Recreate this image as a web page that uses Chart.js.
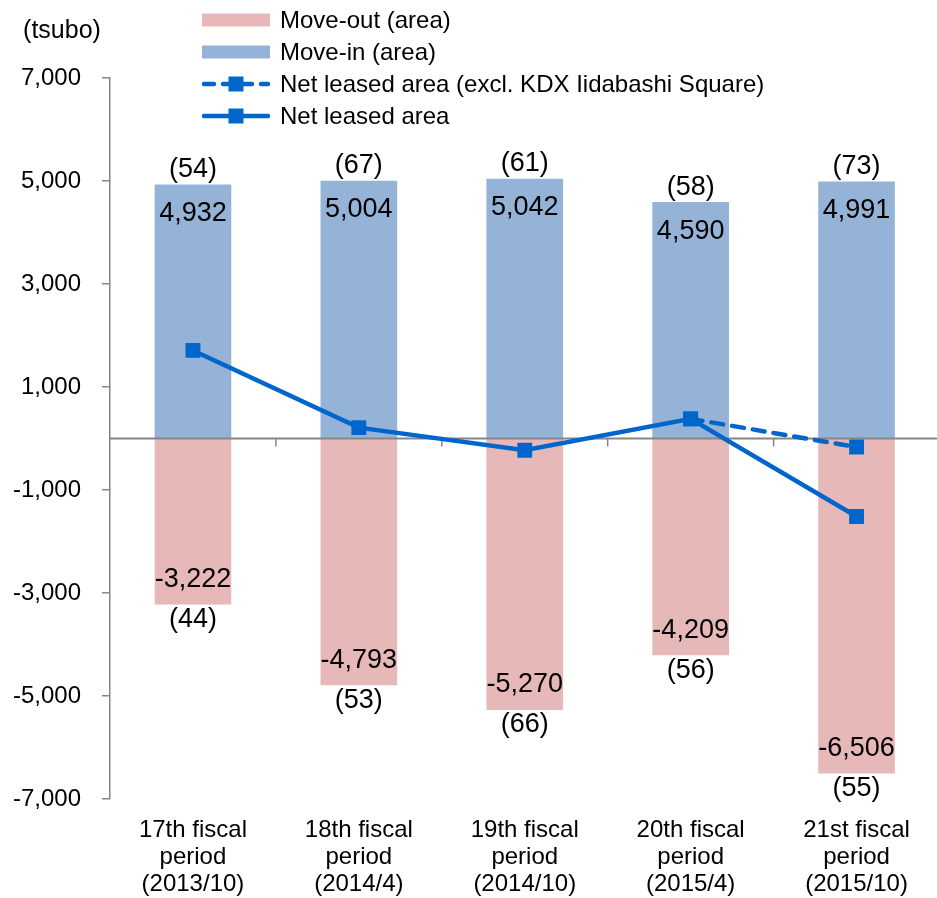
<!DOCTYPE html>
<html>
<head>
<meta charset="utf-8">
<script src="https://cdn.jsdelivr.net/npm/chart.js@4/dist/chart.umd.min.js"></script>
<style>
  html, body { margin: 0; padding: 0; background: #ffffff; overflow: hidden; }
  #wrap { position: relative; width: 950px; height: 898px; }
</style>
</head>
<body>
<div id="wrap"><canvas id="c" width="950" height="898"></canvas></div>
<script>
// ---- Data ----
const periodNames = ['17th fiscal', '18th fiscal', '19th fiscal', '20th fiscal', '21st fiscal'];
const periodWord = 'period';
const periodDates = ['(2013/10)', '(2014/4)', '(2014/10)', '(2015/4)', '(2015/10)'];
const moveIn = [4932, 5004, 5042, 4590, 4991];
const moveOut = [-3222, -4793, -5270, -4209, -6506];
const moveInCount = [54, 67, 61, 58, 73];
const moveOutCount = [44, 53, 66, 56, 55];
const netLeased = [1710, 211, -228, 381, -1515];
const netExclKDX = [null, null, null, 381, -165];
const yTicks = [-7000, -5000, -3000, -1000, 1000, 3000, 5000, 7000];
const unitLabel = '(tsubo)';

const FONT = '"Liberation Sans", Arial, sans-serif';
const BLUE = '#0066CC';
const AXIS = '#868686';
const categories = periodNames.map((n, i) => [n, periodWord, periodDates[i]]);
const fmt = v => v.toLocaleString('en-US');

const datasets = [
  { type: 'bar', label: 'Move-out (area)', data: moveOut, backgroundColor: '#E6B9B8',
    grouped: false, categoryPercentage: 1, barPercentage: 0.462, order: 2, counts: moveOutCount },
  { type: 'bar', label: 'Move-in (area)', data: moveIn, backgroundColor: '#95B3D7',
    grouped: false, categoryPercentage: 1, barPercentage: 0.462, order: 2, counts: moveInCount },
  { type: 'line', label: 'Net leased area (excl. KDX Iidabashi Square)', data: netExclKDX,
    borderColor: BLUE, backgroundColor: BLUE, borderWidth: 4.5, borderDash: [12, 9], borderCapStyle: 'round',
    pointStyle: 'rect', pointRadius: 10.5, pointBorderWidth: 0, spanGaps: false, order: 1, legendDash: true },
  { type: 'line', label: 'Net leased area', data: netLeased,
    borderColor: BLUE, backgroundColor: BLUE, borderWidth: 4.5,
    pointStyle: 'rect', pointRadius: 10.5, pointBorderWidth: 0, order: 0 }
];

const decor = {
  id: 'decor',
  afterDatasetDraw(chart, args) {
    if (args.index !== 0) return;
    // zero line and category boundary ticks
    const ctx = chart.ctx, y = chart.scales.y, x = chart.scales.x, ca = chart.chartArea;
    const y0 = y.getPixelForValue(0);
    ctx.save();
    ctx.strokeStyle = AXIS; ctx.lineWidth = 2;
    ctx.beginPath(); ctx.moveTo(ca.left, y0); ctx.lineTo(ca.right, y0); ctx.stroke();
    ctx.lineWidth = 1.5;
    for (let i = 0; i < categories.length; i++) {
      const bx = (x.getPixelForValue(i) + (i + 1 < categories.length ? x.getPixelForValue(i + 1) : x.getPixelForValue(i) * 2 - x.getPixelForValue(i - 1))) / 2;
      ctx.beginPath(); ctx.moveTo(bx, y0); ctx.lineTo(bx, y0 + 8); ctx.stroke();
    }
    ctx.restore();
  },
  afterDatasetsDraw(chart) {
    const ctx = chart.ctx;
    ctx.save();
    ctx.fillStyle = '#000';
    ctx.textAlign = 'center';
    ctx.textBaseline = 'middle';
    ctx.font = '27px ' + FONT;
    [0, 1].forEach(di => {
      const ds = chart.data.datasets[di];
      const meta = chart.getDatasetMeta(di);
      meta.data.forEach((el, i) => {
        const v = ds.data[i];
        if (v >= 0) {
          ctx.fillText(fmt(v), el.x, el.y + 29);
          ctx.fillText('(' + ds.counts[i] + ')', el.x, el.y - 15);
        } else {
          ctx.fillText(fmt(v), el.x, el.y - 25);
          ctx.fillText('(' + ds.counts[i] + ')', el.x, el.y + 15);
        }
      });
    });
    // unit label
    ctx.font = '25px ' + FONT;
    ctx.fillText(unitLabel, 62, 31);
    // legend
    ctx.font = '24px ' + FONT;
    ctx.textAlign = 'left';
    const lx0 = 202, lx1 = 270, tx = 280, rows = [20, 52, 84, 116];
    chart.data.datasets.forEach((ds, i) => {
      const ry = rows[i];
      if (ds.type === 'bar') {
        ctx.fillStyle = ds.backgroundColor;
        ctx.fillRect(lx0, ry - 6.5, lx1 - lx0, 13);
      } else {
        ctx.strokeStyle = ds.borderColor; ctx.lineWidth = 4.5;
        ctx.lineCap = 'round';
        ctx.setLineDash(ds.legendDash ? [10, 9] : []);
        ctx.beginPath(); ctx.moveTo(lx0 + 2, ry); ctx.lineTo(lx1 - 2, ry); ctx.stroke();
        ctx.setLineDash([]);
        ctx.fillStyle = ds.backgroundColor;
        ctx.fillRect((lx0 + lx1) / 2 - 7.5, ry - 7.5, 15, 15);
      }
      ctx.fillStyle = '#000';
      ctx.fillText(ds.label, tx, ry + 1);
    });
    ctx.restore();
  }
};

new Chart(document.getElementById('c'), {
  data: { labels: categories, datasets },
  options: {
    responsive: false,
    animation: false,
    layout: { padding: { top: 78, right: 7, left: 0, bottom: 0 } },
    plugins: { legend: { display: false }, tooltip: { enabled: false } },
    scales: {
      x: {
        type: 'category', offset: true,
        grid: { display: false, drawTicks: false },
        border: { display: false },
        ticks: { color: '#000', font: { family: FONT, size: 24, lineHeight: 1.13 }, padding: 18, maxRotation: 0, autoSkip: false },
        afterFit(s) { s.height = 99; }
      },
      y: {
        min: -7000, max: 7000,
        afterBuildTicks(s) { s.ticks = yTicks.map(v => ({ value: v })); },
        ticks: { color: '#000', font: { family: FONT, size: 24 }, padding: 21, callback: v => fmt(v) },
        grid: { drawOnChartArea: false, tickLength: 8, color: AXIS, lineWidth: 1.5 },
        border: { color: AXIS, width: 1.5 },
        afterFit(s) { s.width = 110; }
      }
    }
  },
  plugins: [decor]
});
</script>
</body>
</html>
